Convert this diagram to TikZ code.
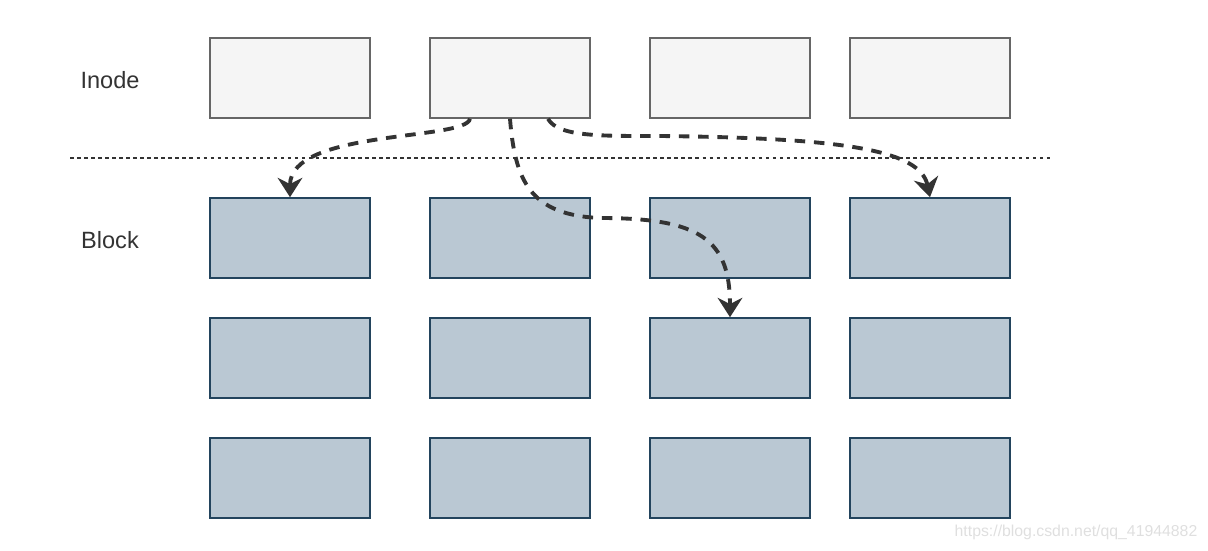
\documentclass[tikz,border=0pt]{standalone}
\usepackage{fontspec}
\setmainfont{Liberation Sans}
\usepackage{xcolor}
\usepackage{tikz}
\usetikzlibrary{calc,arrows.meta}

\definecolor{inodeFill}{HTML}{F5F5F5}
\definecolor{inodeLine}{HTML}{666666}
\definecolor{blockFill}{HTML}{BAC8D3}
\definecolor{blockLine}{HTML}{23445D}
\definecolor{arrowGray}{HTML}{333333}

\begin{document}
\begin{tikzpicture}[x=0.02cm,y=-0.02cm,
    inodebox/.style={draw=inodeLine,fill=inodeFill,line width=0.9pt,
        minimum width=3.2cm,minimum height=1.6cm,inner sep=0pt},
    blockbox/.style={draw=blockLine,fill=blockFill,line width=0.9pt,
        minimum width=3.2cm,minimum height=1.6cm,inner sep=0pt},
    pointer/.style={draw=arrowGray,line width=2.2pt,dash pattern=on 6pt off 5pt,
        -{Stealth[length=11pt,width=14pt,inset=3.5pt]}},
    rowlabel/.style={text=arrowGray,font=\fontsize{13.4}{16}\selectfont}]
            % Define layout
            \def\inodeRow{78}
            \def\sepRow{158}

            \useasboundingbox (0,0) rectangle (1208,551);

            % Draw boxes
            \foreach \c/\x in {1/290,2/510,3/730,4/930} {
                \node[inodebox] (ino\c) at (\x,\inodeRow) {};
                \foreach \r/\y in {1/238,2/358,3/478}
                    \node[blockbox] (blk\r\c) at (\x,\y) {};
            }

            % Label rows
            \node[rowlabel] (inodeLabel) at (110,80) {Inode};
            \node[rowlabel] (blockLabel) at (110,240) {Block};

            % Draw separator
            \draw[arrowGray,line width=0.9pt,dash pattern=on 2pt off 2pt] (70,\sepRow) -- (1050,\sepRow);

            % Draw pointers
            \coordinate (bend) at (600,218);
            \coordinate (swing) at (660,136);
            \draw[pointer] ($(ino2.south)+(-40,0)$) .. controls +(-4,22) and +(0,-68) .. (blk11.north);
            \draw[pointer] (ino2.south) .. controls +(5,62) and +(-70,-3) .. (bend)
                .. controls +(100,0) and +(0,-78) .. (blk23.north);
            \draw[pointer] ($(ino2.south)+(38,0)$) .. controls +(10,18) and +(-60,0) .. (swing)
                .. controls +(180,2) and +(-10,-48) .. (blk14.north);

            % Watermark
            \node[text=gray!25,font=\fontsize{9}{11}\selectfont] (mark) at (1076,532) {https://blog.csdn.net/qq\_41944882};

        \end{tikzpicture}
\end{document}
